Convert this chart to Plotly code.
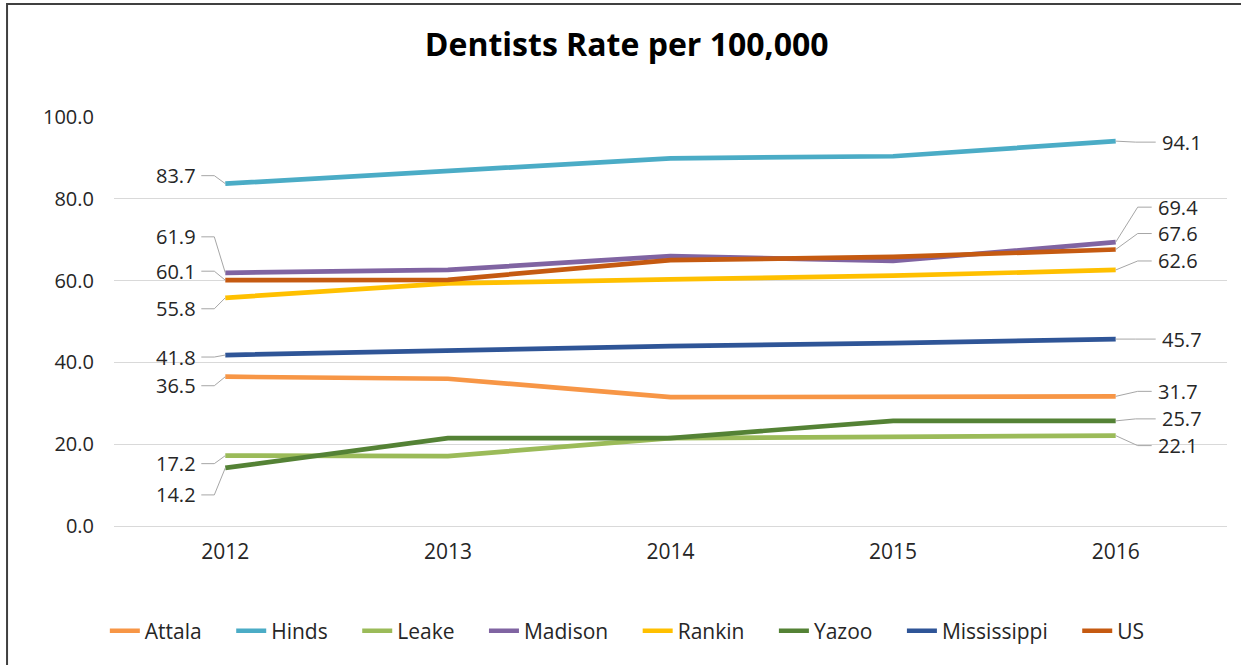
import plotly.graph_objects as go

years = [2012, 2013, 2014, 2015, 2016]
attala = [36.5, 36.0, 31.5, 31.5, 31.7]
hinds = [83.7, 86.9, 89.9, 90.4, 94.1]
leake = [17.2, 17.1, 21.5, 21.8, 22.1]
madison = [61.9, 62.6, 66.0, 64.8, 69.4]
rankin = [55.8, 59.3, 60.3, 61.2, 62.6]
yazoo = [14.2, 21.5, 21.5, 25.7, 25.7]
mississippi = [41.8, 42.9, 44.0, 44.7, 45.7]
us = [60.1, 60.2, 65.0, 65.8, 67.6]

series_names = ["Attala", "Hinds", "Leake", "Madison", "Rankin", "Yazoo", "Mississippi", "US"]
series_values = [attala, hinds, leake, madison, rankin, yazoo, mississippi, us]
colors = ["#F79646", "#4BACC6", "#9BBB59", "#8064A2", "#FFC000", "#548235", "#2F5597", "#C55A11"]

# label offsets (pixels, screen-down positive) for first and last point labels
left_dy = {"Attala": 9, "Hinds": -8, "Leake": 8, "Madison": -36, "Rankin": 11,
           "Yazoo": 27, "Mississippi": 2, "US": -9}
right_dy = {"Attala": -5, "Hinds": 1, "Leake": 10, "Madison": -35, "Rankin": -9,
            "Yazoo": -2, "Mississippi": 0, "US": -16}

FONT = "Open Sans"
TXT = "#262626"
LEADER = "#A6A6A6"

fig = go.Figure()
for name, vals, col in zip(series_names, series_values, colors):
    fig.add_trace(go.Scatter(x=years, y=vals, mode="lines", name=name + "\u2003\u2009",
                             line=dict(color=col, width=4.7), hoverinfo="skip"))

shapes = []
annotations = []
for name, vals in zip(series_names, series_values):
    # left label
    dy = left_dy[name]
    shapes.append(dict(type="path", xref="x", yref="y", xsizemode="pixel", ysizemode="pixel",
                       xanchor=years[0], yanchor=vals[0],
                       path=f"M0,0 L-11,{-dy} L-24,{-dy}",
                       line=dict(color=LEADER, width=1)))
    annotations.append(dict(x=years[0], y=vals[0], text=f"{vals[0]:.1f}", showarrow=False,
                            xanchor="right", yanchor="middle", xshift=-27, yshift=-dy,
                            font=dict(family=FONT, size=20, color=TXT)))
    # right label
    dy = right_dy[name]
    if abs(dy) <= 3:
        p = f"M0,0 L20,{-dy} L40,{-dy}"
        tx = 44
    else:
        p = f"M0,0 L22,{-dy} L36,{-dy}"
        tx = 40
    shapes.append(dict(type="path", xref="x", yref="y", xsizemode="pixel", ysizemode="pixel",
                       xanchor=years[-1], yanchor=vals[-1], path=p,
                       line=dict(color=LEADER, width=1)))
    annotations.append(dict(x=years[-1], y=vals[-1], text=f"{vals[-1]:.1f}", showarrow=False,
                            xanchor="left", yanchor="middle", xshift=tx, yshift=-dy,
                            font=dict(family=FONT, size=20, color=TXT)))

# outer border
shapes.append(dict(type="path", xref="paper", yref="paper",
                   path="M-0.0961,-0.4 L-0.0961,1.276 L1.02,1.276",
                   line=dict(color="#404040", width=2), layer="above"))

fig.update_layout(
    width=1241, height=665,
    margin=dict(l=114, r=14, t=117, b=139),
    paper_bgcolor="white", plot_bgcolor="white",
    title=dict(text="<b>Dentists Rate per 100,000</b>", x=0.505, xanchor="center",
               y=1 - 45 / 665, yanchor="middle",
               font=dict(family=FONT, size=32, color="#000000")),
    xaxis=dict(range=[years[0] - 0.5, years[-1] + 0.5], tickvals=years,
               ticktext=[str(y) for y in years], showgrid=False, zeroline=False,
               showline=True, linecolor="#D9D9D9", linewidth=1, ticks="",
               tickfont=dict(family=FONT, size=21, color=TXT), ticklabelstandoff=7),
    yaxis=dict(range=[0, 100], tickvals=[0, 20, 40, 60, 80, 100], tickformat=".1f",
               showgrid=True, gridcolor="#D9D9D9", gridwidth=1, zeroline=False,
               ticks="", tickfont=dict(family=FONT, size=20, color=TXT),
               ticklabelstandoff=19),
    legend=dict(orientation="h", x=0.472, xanchor="center", y=-0.257, yanchor="middle",
                font=dict(family=FONT, size=21, color=TXT),
                traceorder="normal", bgcolor="rgba(0,0,0,0)"),
    shapes=shapes, annotations=annotations, showlegend=True,
)

fig.write_html("out.html")
